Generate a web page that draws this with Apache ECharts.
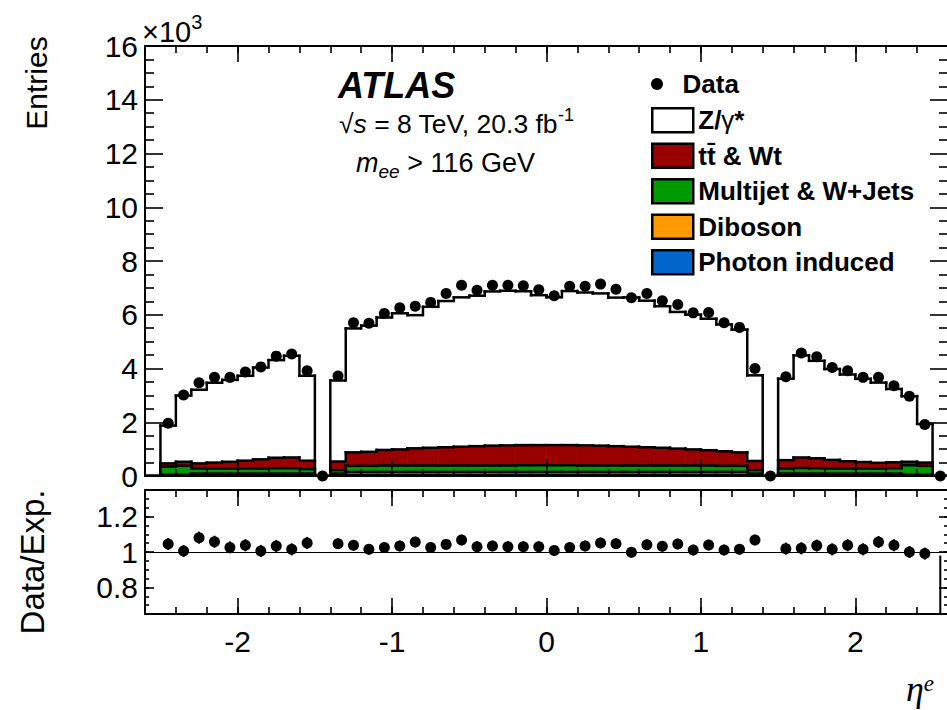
<!DOCTYPE html>
<html><head><meta charset="utf-8">
<script src="https://cdn.jsdelivr.net/npm/echarts@6/dist/echarts.min.js"></script>
<style>html,body{margin:0;padding:0;background:#fff;overflow:hidden}#c{width:950px;height:710px}</style>
</head><body><div id="c"></div>
<script>
// ---- data (eta bins of width 0.1) ----
const etaEdges = [-2.6,-2.5,-2.4,-2.3,-2.2,-2.1,-2.0,-1.9,-1.8,-1.7,-1.6,-1.5,-1.4,-1.3,-1.2,-1.1,-1.0,-0.9,-0.8,-0.7,-0.6,-0.5,-0.4,-0.3,-0.2,-0.1,0.0,0.1,0.2,0.3,0.4,0.5,0.6,0.7,0.8,0.9,1.0,1.1,1.2,1.3,1.4,1.5,1.6,1.7,1.8,1.9,2.0,2.1,2.2,2.3,2.4,2.5,2.6];
const dataEntries = [null,1960,3010,3470,3670,3670,3870,4060,4460,4540,3920,0,3720,5700,5680,6050,6260,6320,6460,6790,7100,6910,7100,7100,7080,6930,6710,7060,7060,7140,6950,6630,6790,6520,6380,6070,6080,5700,5530,4000,0,3690,4580,4440,4040,3920,3670,3670,3360,2970,1920,0];
const zGamma = [0,1406,2462,2740,2969,3047,3158,3416,3633,3783,3160,0,3013,4611,4696,4927,5064,4955,5246,5440,5558,5599,5737,5753,5724,5578,5500,5731,5688,5664,5528,5553,5453,5268,5085,5014,4892,4718,4568,3185,0,3031,3796,3626,3380,3226,3096,2985,2727,2440,1437,0];
const ttbarWt = [0,120,150,190,220,250,290,340,390,400,310,0,320,500,520,580,600,640,660,680,700,720,740,750,750,750,750,750,750,740,720,700,680,660,630,600,570,540,500,340,0,310,390,370,320,270,240,210,220,130,120,0];
const multijetWJets = [0,300,330,190,190,190,190,190,200,200,170,0,130,230,230,240,240,240,240,240,240,240,240,240,250,250,250,250,240,240,240,240,240,240,240,240,240,230,230,130,0,190,210,200,190,190,190,190,200,350,330,0];
const diboson = [0,40,40,70,70,70,70,70,70,70,70,0,60,110,110,110,110,110,110,110,110,110,110,110,110,110,110,110,110,110,110,110,110,110,110,110,110,110,110,60,0,70,70,70,70,70,70,70,70,40,40,0];
const photonInduced = [0,10,10,20,20,20,20,20,20,20,20,0,30,40,40,40,40,40,40,40,40,40,40,40,40,40,40,40,40,40,40,40,40,40,40,40,40,40,40,30,0,20,20,20,20,20,20,20,20,10,10,0];
const ratioValues = [null,1.045,1.006,1.081,1.058,1.026,1.038,1.006,1.034,1.015,1.051,null,1.047,1.038,1.015,1.026,1.034,1.056,1.026,1.043,1.068,1.030,1.034,1.030,1.030,1.030,1.009,1.026,1.034,1.051,1.047,0.998,1.041,1.032,1.045,1.011,1.039,1.011,1.015,1.068,null,1.019,1.021,1.036,1.015,1.038,1.015,1.056,1.038,1.000,0.991,0];
const ratioErrors = [null,0.034,0.034,0.034,0.034,0.034,0.034,0.034,0.034,0.034,0.034,null,0.03,0.03,0.03,0.03,0.03,0.03,0.03,0.03,0.03,0.03,0.03,0.03,0.03,0.03,0.03,0.03,0.03,0.03,0.03,0.03,0.03,0.03,0.03,0.03,0.03,0.03,0.03,0.03,null,0.034,0.034,0.034,0.034,0.034,0.034,0.034,0.034,0.034,0.034,0.98];
const xTickValues = [-2,-1,0,1,2];
const ratioTickValues = [0.8,1,1.2];

// ---- build ----
const FONT = "'Liberation Sans', Arial, Helvetica, sans-serif";
const SERIF = "'Liberation Serif', 'DejaVu Serif', serif";
const nb = dataEntries.length;
const centers = [];
for (let i = 0; i < nb; i++) centers.push((etaEdges[i] + etaEdges[i+1]) / 2);
function cumulate(list) {
  const out = [];
  for (let i = 0; i < nb; i++) { let s = 0; list.forEach(a => s += a[i]); out.push(s); }
  return out;
}
const cPhoton = cumulate([photonInduced]);
const cDiboson = cumulate([photonInduced, diboson]);
const cMultijet = cumulate([photonInduced, diboson, multijetWJets]);
const cTtbar = cumulate([photonInduced, diboson, multijetWJets, ttbarWt]);
const cZ = cumulate([photonInduced, diboson, multijetWJets, ttbarWt, zGamma]);

function stepData(cum) {
  const d = [];
  for (let i = 0; i < nb; i++) d.push([etaEdges[i], etaEdges[i+1], cum[i], i > 0 ? cum[i-1] : 0]);
  return d;
}
function stepRender(fill) {
  return function (params, api) {
    const lo = api.value(0), hi = api.value(1), top = api.value(2), prev = api.value(3);
    const a = api.coord([lo, 0]), b = api.coord([hi, top]), c = api.coord([lo, prev]);
    const ls = {stroke: '#000', lineWidth: 2.5, lineCap: 'square'};
    const ch = [];
    if (a[1] - b[1] > 0.1) ch.push({type: 'rect', shape: {x: a[0] - 0.3, y: b[1], width: b[0] - a[0] + 0.6, height: a[1] - b[1]}, style: {fill: fill}});
    ch.push({type: 'line', shape: {x1: a[0], y1: b[1], x2: b[0], y2: b[1]}, style: ls});
    if (Math.abs(c[1] - b[1]) > 0.01) ch.push({type: 'line', shape: {x1: a[0], y1: c[1], x2: a[0], y2: b[1]}, style: ls});
    return {type: 'group', children: ch};
  };
}
const COL = {z: '#ffffff', tt: '#990000', mj: '#009900', db: '#ff9900', ph: '#0066cc'};
const names = {z: 'Z/γ*', tt: 'tt\u0304 & Wt', mj: 'Multijet & W+Jets', db: 'Diboson', ph: 'Photon induced'};
function stackSeries(key, cum, z) {
  return {
    type: 'custom', name: names[key], xAxisIndex: 0, yAxisIndex: 0, z: z, clip: true,
    itemStyle: {color: COL[key], borderColor: '#000', borderWidth: 2.5},
    encode: {x: [0, 1], y: [2, 3]},
    renderItem: stepRender(COL[key]), data: stepData(cum), silent: true
  };
}
const mainPoints = [];
for (let i = 0; i < nb; i++) if (dataEntries[i] !== null) mainPoints.push([centers[i], dataEntries[i]]);
const ratioPoints = [], ratioBars = [];
for (let i = 0; i < nb; i++) if (ratioValues[i] !== null) {
  ratioPoints.push([centers[i], ratioValues[i]]);
  ratioBars.push([centers[i], ratioValues[i], ratioErrors[i]]);
}

const axisLineStyle = {color: '#000', width: 2};
function xAx(grid, pos, major, labels) {
  const o = {
    gridIndex: grid, type: 'value', min: -2.6, max: 2.6, position: pos, z: 8,
    axisLine: {show: !major, onZero: false, lineStyle: axisLineStyle},
    splitLine: {show: false},
    axisTick: {show: true, inside: true, length: major ? 16 : 7, lineStyle: {color: '#000', width: 1.6}},
    axisLabel: {show: false}
  };
  if (major) {
    o.axisTick.customValues = xTickValues;
    if (labels) o.axisLabel = {show: true, customValues: xTickValues, formatter: v => String(v), fontSize: 30, fontFamily: FONT, color: '#000', margin: 12};
  } else {
    o.interval = 0.2;
  }
  return o;
}
function ratioY(pos, major, labels) {
  const o = {
    gridIndex: 1, type: 'value', min: 0.65, max: 1.35, position: pos, z: 8,
    axisLine: {show: major, onZero: false, lineStyle: axisLineStyle},
    splitLine: {show: false},
    axisTick: {show: true, inside: true, length: major ? 9 : 4, lineStyle: {color: '#000', width: 1.6}},
    axisLabel: {show: false}
  };
  if (major) {
    o.axisTick.customValues = ratioTickValues;
    if (labels) o.axisLabel = {show: true, customValues: ratioTickValues, formatter: v => String(v), fontSize: 30, fontFamily: FONT, color: '#000', margin: 7};
  } else {
    o.interval = 0.05;
  }
  return o;
}
function mainY(pos, labels) {
  return {
    gridIndex: 0, type: 'value', min: 0, max: 16000, interval: 2000, position: pos, z: 8,
    axisLine: {show: true, onZero: false, lineStyle: axisLineStyle},
    splitLine: {show: false},
    axisTick: {show: true, inside: true, length: 18, lineStyle: {color: '#000', width: 1.6}},
    minorTick: {show: true, splitNumber: 4, length: 9, lineStyle: {color: '#000', width: 1.6}},
    axisLabel: labels ? {show: true, formatter: v => String(v / 1000), fontSize: 30, fontFamily: FONT, color: '#000', margin: 7} : {show: false}
  };
}

const legText = {fontFamily: FONT, fontWeight: 'bold', fontSize: 26, color: '#000', lineHeight: 26,
  rich: {b: {fontFamily: FONT, fontWeight: 'bold', fontSize: 26, lineHeight: 26}, g: {fontFamily: FONT, fontWeight: 'normal', fontSize: 26, lineHeight: 26}}};

const option = {
  animation: false,
  backgroundColor: '#fff',
  grid: [
    {left: 145, top: 46, width: 803, height: 430},
    {left: 145, top: 490, width: 803, height: 124}
  ],
  xAxis: [
    xAx(0, 'bottom', false), xAx(0, 'bottom', true, false), xAx(0, 'top', false), xAx(0, 'top', true, false),
    xAx(1, 'bottom', false), xAx(1, 'bottom', true, true), xAx(1, 'top', false), xAx(1, 'top', true, false)
  ],
  yAxis: [
    mainY('left', true), mainY('right', false),
    ratioY('left', true, true), ratioY('left', false), ratioY('right', true, false), ratioY('right', false)
  ],
  legend: [
    {orient: 'vertical', left: 651, top: 71, padding: 0, itemWidth: 41, itemHeight: 12, selectedMode: false,
     textStyle: legText, data: [{name: 'Data', icon: 'circle', itemStyle: {color: '#000', borderWidth: 0, opacity: 1}}]},
    {orient: 'vertical', left: 651, top: 107, padding: 0, itemWidth: 41, itemHeight: 24, itemGap: 9, selectedMode: false,
     textStyle: legText,
     formatter: n => n === names.z ? '{b|Z/}{g|γ}{b|*}' : n,
     data: ['z', 'tt', 'mj', 'db', 'ph'].map(k => ({name: names[k], icon: 'rect', itemStyle: {color: COL[k], borderColor: '#000', borderWidth: 2.5, opacity: 1}}))}
  ],
  series: [
    stackSeries('z', cZ, 2),
    stackSeries('tt', cTtbar, 3),
    stackSeries('mj', cMultijet, 4),
    stackSeries('db', cDiboson, 5),
    stackSeries('ph', cPhoton, 6),
    {type: 'scatter', name: 'Data', xAxisIndex: 0, yAxisIndex: 0, z: 10, clip: false, symbol: 'circle', symbolSize: 11,
     itemStyle: {color: '#000', opacity: 1}, data: mainPoints, silent: true},
    {type: 'custom', name: 'ratioErr', xAxisIndex: 4, yAxisIndex: 2, z: 9, clip: true, silent: true,
     encode: {x: 0, y: 1},
     renderItem: function (params, api) {
       const x = api.value(0), r = api.value(1), e = api.value(2);
       const p1 = api.coord([x, r - e]), p2 = api.coord([x, r + e]);
       return {type: 'line', shape: {x1: p1[0], y1: p1[1], x2: p2[0], y2: p2[1]}, style: {stroke: '#000', lineWidth: 2}};
     },
     data: ratioBars},
    {type: 'scatter', name: 'Ratio', xAxisIndex: 4, yAxisIndex: 2, z: 10, clip: true, symbol: 'circle', symbolSize: 11,
     itemStyle: {color: '#000', opacity: 1}, data: ratioPoints, silent: true,
     markLine: {silent: true, symbol: ['none', 'none'], label: {show: false}, z: 7,
       lineStyle: {color: '#000', width: 1.2, type: 'solid', opacity: 1}, data: [{yAxis: 1}]}}
  ],
  graphic: [
    {type: 'text', x: 142, y: 32, style: {text: '{r|×10}{s|3}', fill: '#000', verticalAlign: 'middle', align: 'left',
      rich: {r: {fontFamily: FONT, fontSize: 29, lineHeight: 40}, s: {fontFamily: FONT, fontSize: 20, lineHeight: 20, verticalAlign: 'top'}}}},
    {type: 'text', x: 36, y: 83, rotation: Math.PI / 2, style: {text: 'Entries', fontFamily: FONT, fontSize: 30, fill: '#000', align: 'center', verticalAlign: 'middle'}},
    {type: 'text', x: 32, y: 562, rotation: Math.PI / 2, style: {text: 'Data/Exp.', fontFamily: FONT, fontSize: 33, fill: '#000', align: 'center', verticalAlign: 'middle'}},
    {type: 'text', x: 338, y: 85, style: {text: 'ATLAS', fontFamily: FONT, fontSize: 36, fontWeight: 'bold', fontStyle: 'italic', fill: '#000', align: 'left', verticalAlign: 'middle'}},
    {type: 'text', x: 339, y: 124, style: {text: '{r|√}{i|s}{r| = 8 TeV, 20.3 fb}{s|-1}', fill: '#000', align: 'left', verticalAlign: 'middle',
      rich: {r: {fontFamily: FONT, fontSize: 26.5, lineHeight: 36}, i: {fontFamily: FONT, fontSize: 26.5, fontStyle: 'italic', lineHeight: 36},
             s: {fontFamily: FONT, fontSize: 18, lineHeight: 18, verticalAlign: 'top'}}}},
    {type: 'text', x: 356, y: 163, style: {text: '{i|m}{s|ee}{r| > 116 GeV}', fill: '#000', align: 'left', verticalAlign: 'middle',
      rich: {r: {fontFamily: FONT, fontSize: 27, lineHeight: 36}, i: {fontFamily: FONT, fontSize: 27, fontStyle: 'italic', lineHeight: 36},
             s: {fontFamily: FONT, fontSize: 19, fontStyle: 'italic', lineHeight: 19, verticalAlign: 'bottom'}}}},
    {type: 'text', x: 934, y: 689, style: {text: '{g|η}{s|e}', fill: '#000', align: 'right', verticalAlign: 'middle',
      rich: {g: {fontFamily: SERIF, fontStyle: 'italic', fontSize: 36, lineHeight: 34}, s: {fontFamily: SERIF, fontStyle: 'italic', fontSize: 23, lineHeight: 22, verticalAlign: 'top'}}}}
  ]
};
const chart = echarts.init(document.getElementById('c'), null, {renderer: 'svg'});
chart.setOption(option);
</script>
</body></html>
